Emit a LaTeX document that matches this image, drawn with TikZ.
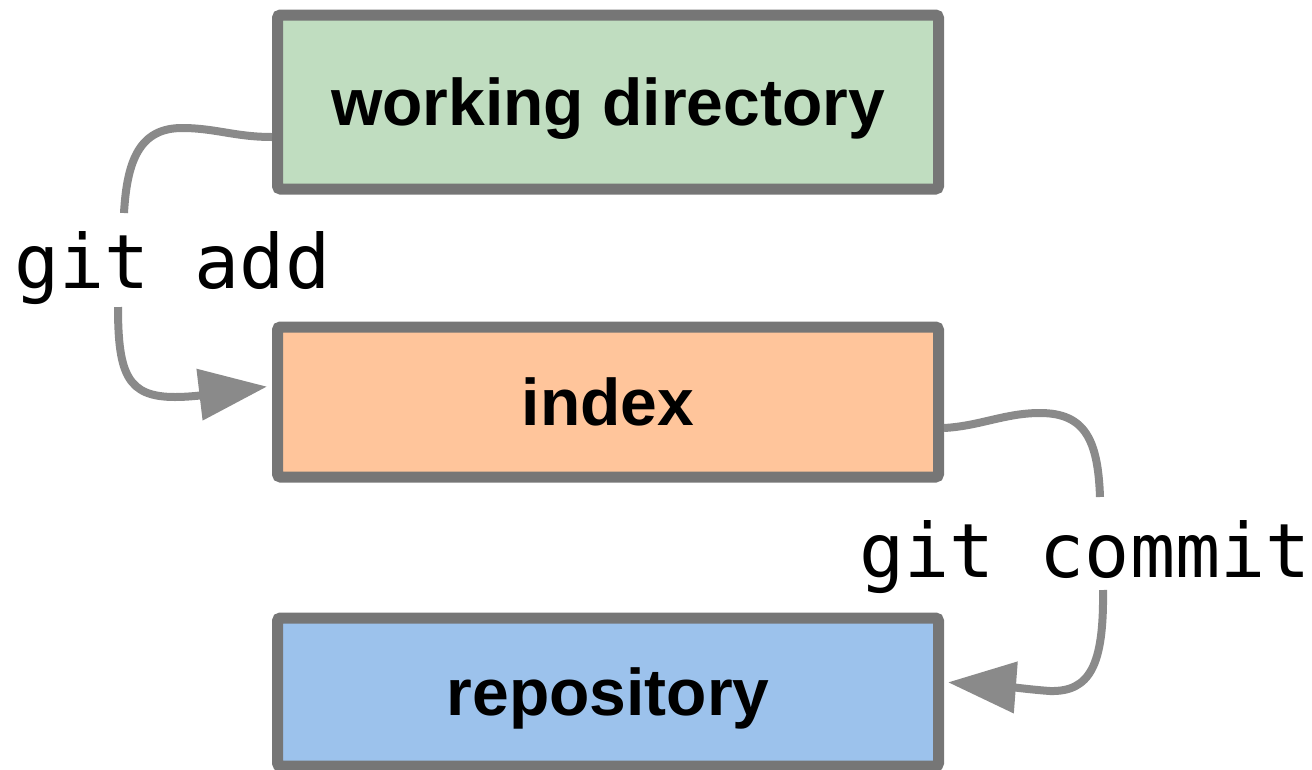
\documentclass[tikz,border=0pt]{standalone}
\usepackage{fontspec}
\setmainfont{Liberation Sans}
\newfontfamily\gitmono{DejaVu Sans Mono}
\usetikzlibrary{arrows.meta}
\definecolor{edgegray}{RGB}{118,118,118}
\definecolor{flowgray}{RGB}{138,138,138}
\definecolor{wdgreen}{RGB}{192,221,192}
\definecolor{idxorange}{RGB}{255,197,155}
\definecolor{repoblue}{RGB}{156,194,236}
\tikzset{
stage/.style={draw=edgegray, line width=11pt, rounded corners=3pt, minimum width=661pt, minimum height=150pt, text depth=0pt, font=\fontsize{66}{70}\selectfont\bfseries}, % the three areas
cmd/.style={inner sep=0pt, anchor=base west, font=\gitmono\fontsize{75}{80}\selectfont}, % git commands
flow/.style={draw=flowgray, line width=8pt}, % curved connectors
tip/.style={-{Triangle[length=68pt, width=50pt]}},
}
\begin{document}
\begin{tikzpicture}[x=1pt, y=-1pt]
\useasboundingbox (0,0) rectangle (1312,769);
\node[stage, fill=wdgreen, minimum height=174pt] (wd) at (608,102) {working directory};
\node[stage, fill=idxorange] (idx) at (608,402) {index};
\node[stage, fill=repoblue, minimum height=148pt] (repo) at (608,692) {repository};

\node[cmd] (add) at (14,288) {git add};
\node[cmd] (commit) at (859,577) {git commit};

% free ends beside the labels
\coordinate (addtop) at (124,213);
\coordinate (addbot) at (118,307);
\coordinate (committop) at (1100,497);
\coordinate (commitbot) at (1103,590);

\draw[flow] ([yshift=-35pt]wd.west) .. controls (235,137) and (215,128) .. (182,128)
  .. controls (140,128) and (127,160) .. (addtop);
\draw[flow, tip, shorten >=5pt] (addbot) .. controls (118,375) and (128,397) .. (175,397)
  .. controls (200,397) and (230,391) .. ([yshift=16pt]idx.west);
\draw[flow] ([yshift=-26pt]idx.east) .. controls (980,426) and (1005,413) .. (1040,413)
  .. controls (1085,413) and (1098,440) .. (committop);
\draw[flow, tip, shorten >=4pt] (commitbot) .. controls (1104,665) and (1090,692) .. (1050,691)
  .. controls (1035,690) and (1010,687) .. ([yshift=10pt]repo.east);
\end{tikzpicture}
\end{document}
